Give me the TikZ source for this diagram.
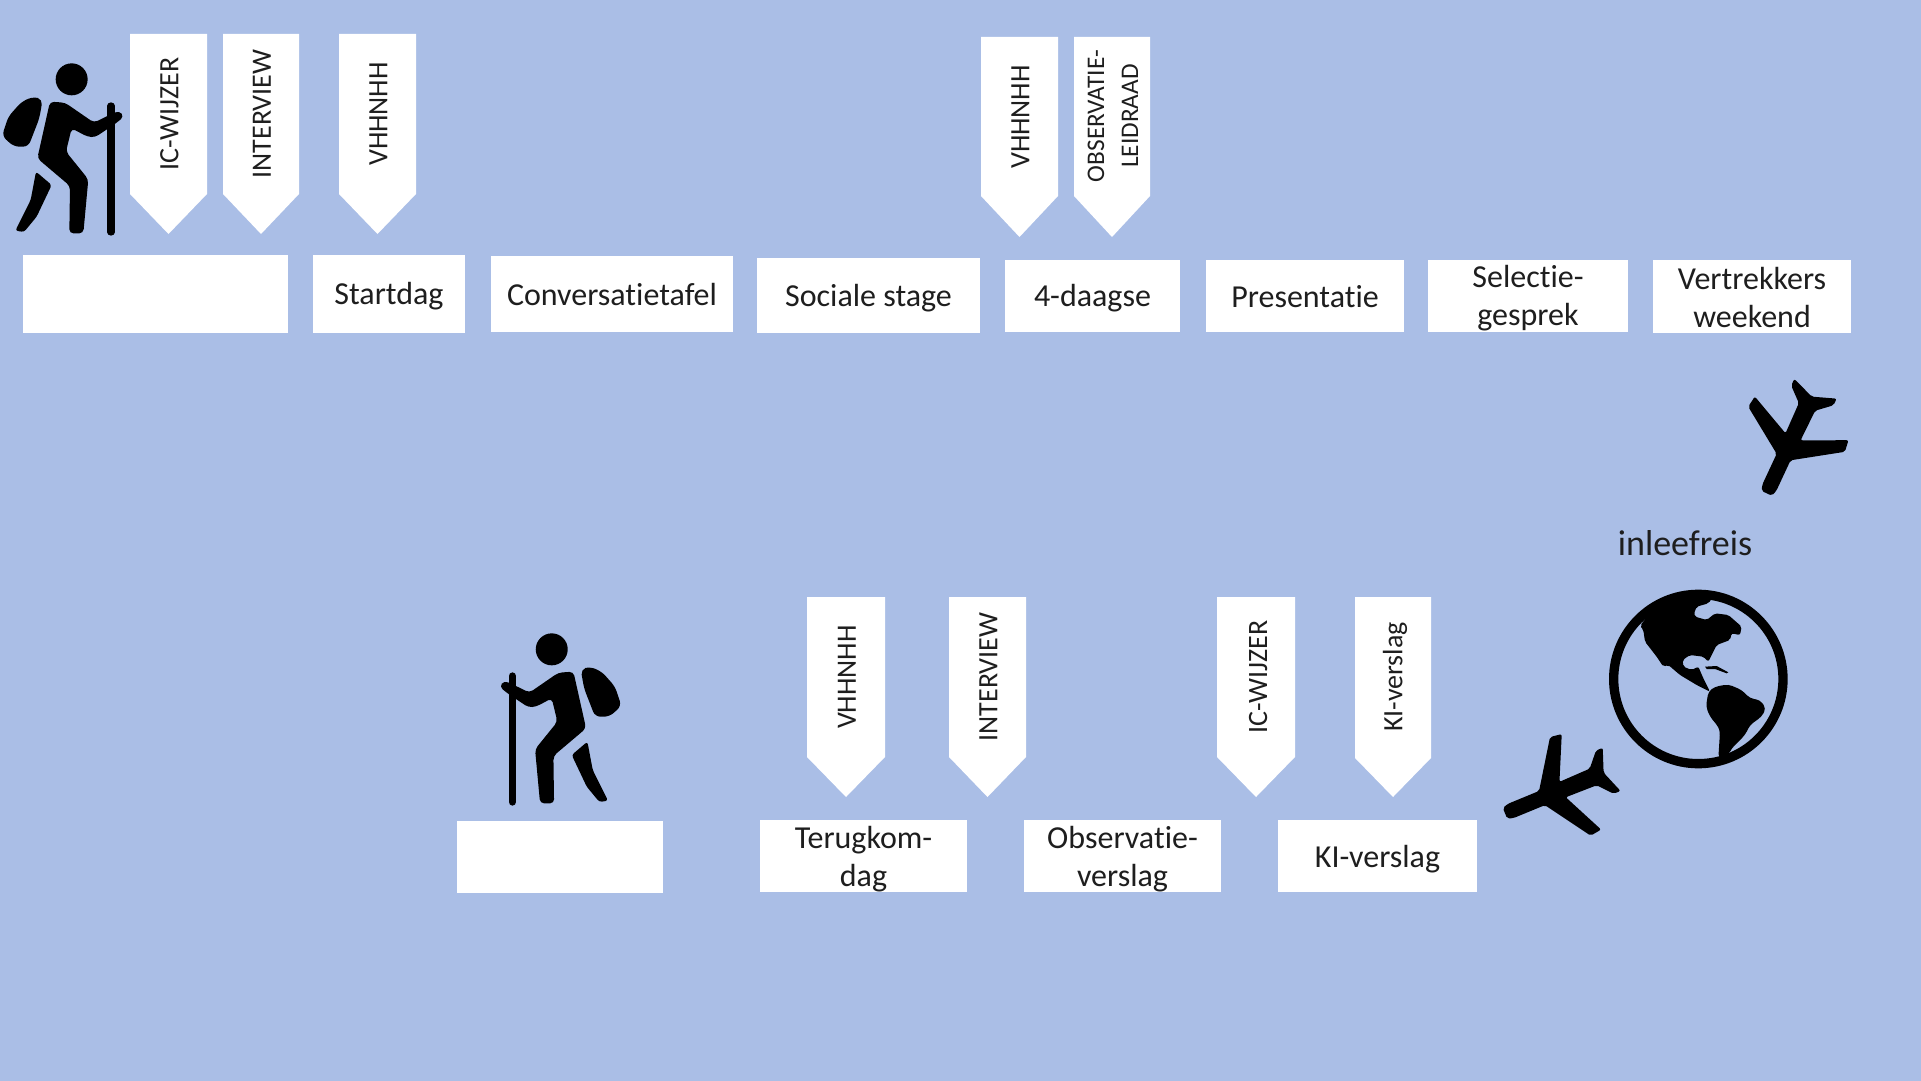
\documentclass[tikz,border=0pt]{standalone}
\usepackage{fontspec}
\setmainfont{Carlito}[Ligatures=CommonOff]
\definecolor{slidebg}{RGB}{170,190,230}
\definecolor{inktext}{RGB}{30,30,30}

\tikzset{
  stagefill/.style={fill=white},
  stagelabel/.style={text=inktext,align=center,font=\fontsize{24}{28.5}\selectfont},
  taglabel/.style={text=inktext,align=center,rotate=90,font=\fontsize{21}{25}\selectfont},
  hiker/.pic={
    \fill (215,178) circle (48);
    \fill [rounded corners=4pt] (100,230) -- (128,238) -- (118,295) -- (85,380) -- (42,380) -- (6,348) -- (25,290) -- (65,245) -- cycle;
    \fill [rounded corners=3pt] (150,245) -- (195,248) -- (282,308) -- (322,288) -- (358,272) -- (372,290) -- (345,312) -- (285,352) -- (262,350) -- (215,325) -- (198,395) -- (265,478) -- (250,640) -- (208,640) -- (210,498) -- (112,415) -- cycle;
    \fill [rounded corners=2pt] (108,455) -- (155,495) -- (110,590) -- (72,636) -- (46,632) -- (92,540) -- cycle;
    \draw [line width=5.5pt,line cap=round] (333,258) -- (333,636);
  },
  plane/.pic={
    \fill [rounded corners=1.5pt] (0,-17) -- (18,-23) -- (120,-23) -- (212,-160) -- (248,-155) -- (187,-25) -- (286,-27) -- (324,-70) -- (346,-70) -- (320,0)
      -- (346,70) -- (324,70) -- (286,27) -- (187,25) -- (248,155) -- (212,160) -- (120,23) -- (18,23) -- (0,17) -- cycle;
  },
}

\begin{document}
\begin{tikzpicture}[x=0.75pt,y=0.75pt,yscale=-1,xscale=1]
\useasboundingbox (0,0) rectangle (1921,1081);

%Background
\fill [slidebg] (0,0) rectangle (1921,1081);

%Shape: Rectangle, top row
\fill [stagefill] (23,255) rectangle (288,333);
\fill [stagefill] (313,255) rectangle (465,333);
\fill [stagefill] (491,256) rectangle (733,332);
\fill [stagefill] (757,258) rectangle (980,333);
\fill [stagefill] (1005,260) rectangle (1180,332);
\fill [stagefill] (1206,260) rectangle (1404,332);
\fill [stagefill] (1428,260) rectangle (1628,332);
\fill [stagefill] (1653,260) rectangle (1851,333);

%Shape: Rectangle, bottom row
\fill [stagefill] (457,821) rectangle (663,893);
\fill [stagefill] (760,820) rectangle (967,892);
\fill [stagefill] (1024,820) rectangle (1221,892);
\fill [stagefill] (1278,820) rectangle (1477,892);

%Shape: Pentagon, top row
\fill [stagefill] (130,34) -- (207,34) -- (207,194) -- (168.5,234) -- (130,194) -- cycle;
\fill [stagefill] (223,34) -- (299,34) -- (299,194) -- (261,234) -- (223,194) -- cycle;
\fill [stagefill] (339,34) -- (416,34) -- (416,194) -- (377.5,234) -- (339,194) -- cycle;
\fill [stagefill] (981,37) -- (1058,37) -- (1058,196) -- (1019.5,237) -- (981,196) -- cycle;
\fill [stagefill] (1074,37) -- (1150,37) -- (1150,196) -- (1112,237) -- (1074,196) -- cycle;

%Shape: Pentagon, bottom row
\fill [stagefill] (807,597) -- (885,597) -- (885,757) -- (846,797) -- (807,757) -- cycle;
\fill [stagefill] (949,597) -- (1026,597) -- (1026,757) -- (987.5,797) -- (949,757) -- cycle;
\fill [stagefill] (1217,597) -- (1295,597) -- (1295,757) -- (1256,797) -- (1217,757) -- cycle;
\fill [stagefill] (1355,597) -- (1431,597) -- (1431,758) -- (1393,797) -- (1355,758) -- cycle;

% Text Node
\node [stagelabel] (startdag) at (389,296.5) {Startdag};
\node [stagelabel] (conversatie) at (612,295) {Conversatietafel};
\node [stagelabel] (sociale) at (868.5,298.5) {Sociale stage};
\node [stagelabel] (vierdaagse) at (1092.5,298.5) {4-daagse};
\node [stagelabel] (presentatie) at (1305,297) {Presentatie};
\node [stagelabel] (selectie) at (1528,298) {Selectie-\\gesprek};
\node [stagelabel] (vertrekkers) at (1752,297) {Vertrekkers\\weekend};
\node [stagelabel,font=\fontsize{27}{30}\selectfont] (inleefreis) at (1685,543.5) {inleefreis};
\node [stagelabel] (terugkom) at (863.5,859.5) {Terugkom-\\dag};
\node [stagelabel] (observatie) at (1122.5,859.5) {Observatie-\\verslag};
\node [stagelabel] (kiverslag) at (1377.5,859.5) {KI-verslag};

% Text Node
\node [taglabel] (tagicone) at (169.5,114) {IC-WIJZER};
\node [taglabel] (taginterone) at (262,114) {INTERVIEW};
\node [taglabel] (tagvhone) at (378.5,114) {VHHNHH};
\node [taglabel] (tagvhtwo) at (1020.5,117) {VHHNHH};
\node [taglabel,font=\fontsize{19}{25.5}\selectfont] (tagobs) at (1113,116) {OBSERVATIE-\\LEIDRAAD};
\node [taglabel] (tagvhthree) at (847,677) {VHHNHH};
\node [taglabel] (tagintertwo) at (988.5,677) {INTERVIEW};
\node [taglabel] (tagictwo) at (1258,677) {IC-WIJZER};
\node [taglabel] (tagki) at (1395,677) {KI-verslag};

%Icon: hikers
\pic [scale=1/3,yscale=-1] at (0,20) {hiker};
\pic [scale=1/3,xscale=-1,yscale=-1] at (623.4,590) {hiker};

%Icon: planes
\pic [scale=1/3,rotate=65] at (1766.7,493.3) {plane};
\pic [scale=1/3,rotate=22.4] at (1505,813.3) {plane};

%Icon: globe
\begin{scope}[shift={(1600,585)},scale=1/3]
\draw [line width=7pt] (295,282) circle (254);
\fill [rounded corners=1.5pt] (120,122) -- (150,85) -- (200,55) -- (250,42) -- (335,42) -- (325,55) -- (290,65) -- (282,85) -- (285,95) -- (320,105) -- (345,85) -- (385,90) -- (425,125) -- (420,150) -- (395,145) -- (390,165) -- (350,180) -- (325,230) -- (310,215) -- (270,210) -- (248,225) -- (250,245) -- (275,255) -- (295,245) -- (310,280) -- (330,320) -- (290,300) -- (240,270) -- (205,240) -- (190,245) -- (170,215) -- (135,170) -- (130,135) -- cycle;
\fill (315,245) -- (350,243) -- (385,262) -- (380,265) -- (345,252) -- (320,252) -- cycle;
\fill [rounded corners=3pt] (325,320) -- (345,305) -- (385,298) -- (425,315) -- (450,340) -- (480,345) -- (498,370) -- (485,395) -- (450,420) -- (435,450) -- (395,490) -- (385,510) -- (355,520) -- (360,440) -- (355,425) -- (330,395) -- (318,365) -- cycle;
\end{scope}

\end{tikzpicture}
\end{document}
